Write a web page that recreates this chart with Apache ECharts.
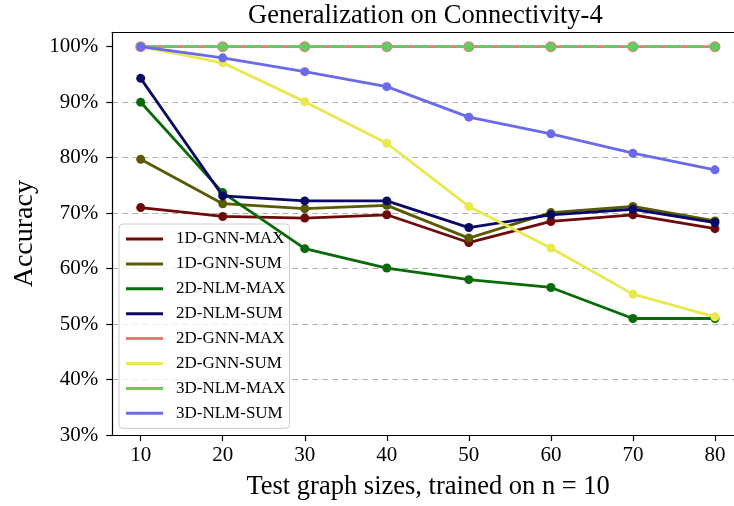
<!DOCTYPE html>
<html>
<head>
<meta charset="utf-8">
<script src="https://cdn.jsdelivr.net/npm/echarts@6/dist/echarts.min.js"></script>
<style>html,body{margin:0;padding:0;background:#fff}#c{width:734px;height:506px}</style>
</head>
<body>
<div id="c"></div>
<script>
const sizes = [10, 20, 30, 40, 50, 60, 70, 80];
const xTicks = [10, 20, 30, 40, 50, 60, 70, 80];
const yTicks = [30, 40, 50, 60, 70, 80, 90, 100];
const gnn1dMax = [71.0, 69.4, 69.1, 69.7, 64.7, 68.5, 69.7, 67.2];
const gnn1dSum = [79.7, 71.7, 70.8, 71.4, 65.5, 70.1, 71.2, 68.6];
const nlm2dMax = [90.0, 73.7, 63.6, 60.1, 58.0, 56.6, 51.0, 51.0];
const nlm2dSum = [94.3, 73.1, 72.2, 72.2, 67.4, 69.7, 70.7, 68.3];
const gnn2dMax = [100, 100, 100, 100, 100, 100, 100, 100];
const gnn2dSum = [100, 97.1, 90.1, 82.6, 71.2, 63.7, 55.4, 51.3];
const nlm3dMax = [100, 100, 100, 100, 100, 100, 100, 100];
const nlm3dSum = [100, 98.0, 95.5, 92.8, 87.3, 84.3, 80.8, 77.8];

const names = ['1D-GNN-MAX','1D-GNN-SUM','2D-NLM-MAX','2D-NLM-SUM','2D-GNN-MAX','2D-GNN-SUM','3D-NLM-MAX','3D-NLM-SUM'];
const values = [gnn1dMax, gnn1dSum, nlm2dMax, nlm2dSum, gnn2dMax, gnn2dSum, nlm3dMax, nlm3dSum];
const colors = ['#6e0a0a','#5a5a05','#086b08','#0a0a66','#f07575','#e8e850','#62cc62','#6a6aea'];

const FONT = 'Liberation Serif';
const series = names.map((n, i) => ({
  name: n,
  type: 'line',
  data: sizes.map((s, j) => [s, values[i][j]]),
  symbol: 'circle',
  symbolSize: n === '2D-GNN-MAX' ? 11 : 9,
  showSymbol: true,
  lineStyle: { color: colors[i], width: 2.8, type: n === '3D-NLM-MAX' ? [16, 5] : 'solid' },
  itemStyle: { color: colors[i] },
  emphasis: { disabled: true },
  z: 2 + i
}));

const chart = echarts.init(document.getElementById('c'), null, { renderer: 'canvas' });
chart.setOption({
  animation: false,
  backgroundColor: '#fff',
  color: colors,
  title: {
    text: 'Generalization on Connectivity-4',
    left: 248, top: 3, padding: 0,
    textStyle: { fontFamily: FONT, fontSize: 26.5, fontWeight: 'normal', color: '#000' }
  },
  grid: {
    left: 112.3, top: 32.3, right: 0, height: 403.7
  },
  legend: {
    orient: 'vertical', left: 119, top: 224,
    icon: 'rect', itemWidth: 37, itemHeight: 3, itemGap: 4.9,
    selectedMode: false,
    backgroundColor: 'rgba(255,255,255,0.8)', borderColor: '#cccccc', borderWidth: 1, borderRadius: 4,
    padding: [5, 4, 5, 7],
    textStyle: { fontFamily: FONT, fontSize: 17, color: '#000', lineHeight: 20, padding: [0, 0, 0, 8] },
    data: names
  },
  xAxis: [{
    type: 'value', min: 6.54, max: 82.32,
    name: 'Test graph sizes, trained on n = 10', nameLocation: 'middle', nameGap: 39,
    nameTextStyle: { fontFamily: FONT, fontSize: 26.5, color: '#000', padding: [0, 0, 0, 10] },
    axisLine: { show: true, onZero: false, lineStyle: { color: '#000', width: 1.2 } },
    axisTick: { show: true, customValues: xTicks, length: 6, lineStyle: { color: '#000', width: 1.2 } },
    axisLabel: { customValues: xTicks, margin: 10, fontFamily: FONT, fontSize: 21, color: '#000' },
    splitLine: { show: false }
  }, {
    type: 'value', min: 6.54, max: 82.32, position: 'top',
    axisLine: { show: true, onZero: false, lineStyle: { color: '#000', width: 1.2 } },
    axisTick: { show: false }, axisLabel: { show: false }, splitLine: { show: false }
  }],
  yAxis: {
    type: 'value', min: 30, max: 102.6, interval: 10,
    name: 'Accuracy', nameLocation: 'middle', nameGap: 73, nameRotate: 90,
    nameTextStyle: { fontFamily: FONT, fontSize: 28, color: '#000' },
    axisLine: { show: true, onZero: false, lineStyle: { color: '#000', width: 1.2 } },
    axisTick: { show: true, customValues: yTicks, length: 6, lineStyle: { color: '#000', width: 1.2 } },
    axisLabel: { customValues: yTicks, margin: 14, fontFamily: FONT, fontSize: 21, color: '#000', formatter: v => v + '%' },
    splitLine: { show: true, showMinLine: false, showMaxLine: false, lineStyle: { color: '#b0b0b0', type: [6, 4], width: 1.1 } }
  },
  series: series
});
</script>
</body>
</html>
